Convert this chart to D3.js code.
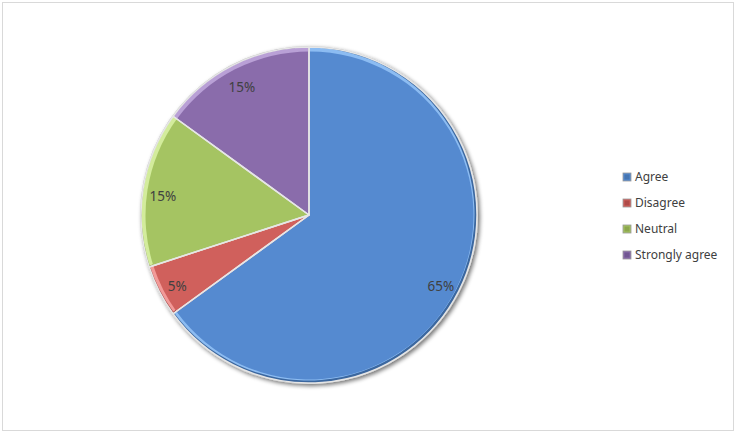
<!DOCTYPE html>
<html>
<head>
<meta charset="utf-8">
<script src="https://cdn.jsdelivr.net/npm/d3@7"></script>
<style>
html,body{margin:0;padding:0;background:#fff;}
svg{display:block;}
</style>
</head>
<body>
<svg id="chart" width="738" height="433"></svg>
<script>
const categories = ["Agree", "Disagree", "Neutral", "Strongly agree"];
const values = [65, 5, 15, 15];
const labels = ["65%", "5%", "15%", "15%"];
const colors = ["#558ad0", "#d0605c", "#a5c462", "#8a6cab"];
const lightColors = ["#8cbcf2", "#f29a98", "#d3ec9c", "#b9a0d6"];
const darkColors = ["#3b679f", "#9a3c3a", "#7b9440", "#634a82"];

const svg = d3.select("#chart");
const defs = svg.append("defs");

const shadow = defs.append("filter").attr("id", "shadow")
  .attr("x", "-10%").attr("y", "-10%").attr("width", "120%").attr("height", "120%");
shadow.append("feGaussianBlur").attr("in", "SourceAlpha").attr("stdDeviation", 2).attr("result", "b");
shadow.append("feOffset").attr("in", "b").attr("dx", 1.5).attr("dy", 2).attr("result", "o");
shadow.append("feComponentTransfer").attr("in", "o").attr("result", "o2")
  .append("feFuncA").attr("type", "linear").attr("slope", 0.55);
const m = shadow.append("feMerge");
m.append("feMergeNode").attr("in", "o2");
m.append("feMergeNode").attr("in", "SourceGraphic");

// frame
svg.append("rect").attr("x", 2.5).attr("y", 2.5).attr("width", 731).attr("height", 428)
  .attr("fill", "#fff").attr("stroke", "#d9d9d9").attr("stroke-width", 1);

const cx = 309, cy = 215, r = 168;
const g = svg.append("g").attr("transform", `translate(${cx},${cy})`);

const pie = d3.pie().sort(null).value(d => d)(values);
const arc = d3.arc().innerRadius(0).outerRadius(r);
const arcIn = d3.arc().innerRadius(0).outerRadius(r - 4);
const labelArc = d3.arc().innerRadius(148).outerRadius(148);

// outer rim / shadow
g.append("circle").attr("r", r + 1).attr("fill", "#c8c8c8").attr("filter", "url(#shadow)");

const slices = g.selectAll("g.slice").data(pie).enter().append("g").attr("class", "slice");
slices.append("path").attr("d", arc).attr("fill", (d, i) => darkColors[i]);
slices.append("path").attr("d", d => {
  const a = d3.arc().innerRadius(0).outerRadius(r - 1.5);
  return a(d);
}).attr("fill", (d, i) => lightColors[i]).attr("transform", "translate(-1,-1)");
slices.append("path").attr("d", d => arcIn(d)).attr("fill", (d, i) => colors[i])
  .attr("transform", "translate(0.5,0.5)");

g.selectAll("path.sep").data(pie).enter().append("path").attr("class", "sep")
  .attr("d", d => arc(d)).attr("fill", "none").attr("stroke", "#e6e6e6").attr("stroke-width", 1.5)
  .attr("stroke-linejoin", "round");

g.selectAll("text.lbl").data(pie).enter().append("text").attr("class", "lbl")
  .attr("transform", d => { const c = labelArc.centroid(d); return `translate(${c[0]},${c[1] + 4})`; })
  .attr("text-anchor", "middle").attr("dy", "0.35em")
  .attr("font-family", "Noto Sans, sans-serif").attr("font-size", 13.5)
  .attr("fill", "#404040").text((d, i) => labels[i]);

// legend
const lg = svg.append("g").attr("transform", "translate(623,177)");
const items = lg.selectAll("g").data(categories).enter().append("g")
  .attr("transform", (d, i) => `translate(0,${i * 26})`);
items.append("rect").attr("x", 0).attr("y", -4).attr("width", 8).attr("height", 8)
  .attr("fill", (d, i) => colors[i]).attr("stroke", "#9a9a9a").attr("stroke-width", 0.8);
items.append("rect").attr("x", 1.5).attr("y", -2.5).attr("width", 5).attr("height", 5)
  .attr("fill", (d, i) => darkColors[i]).attr("opacity", 0.6);
items.append("text").attr("x", 12).attr("dy", "0.35em")
  .attr("font-family", "Noto Sans, sans-serif").attr("font-size", 12)
  .attr("fill", "#404040").text(d => d);
</script>
</body>
</html>
